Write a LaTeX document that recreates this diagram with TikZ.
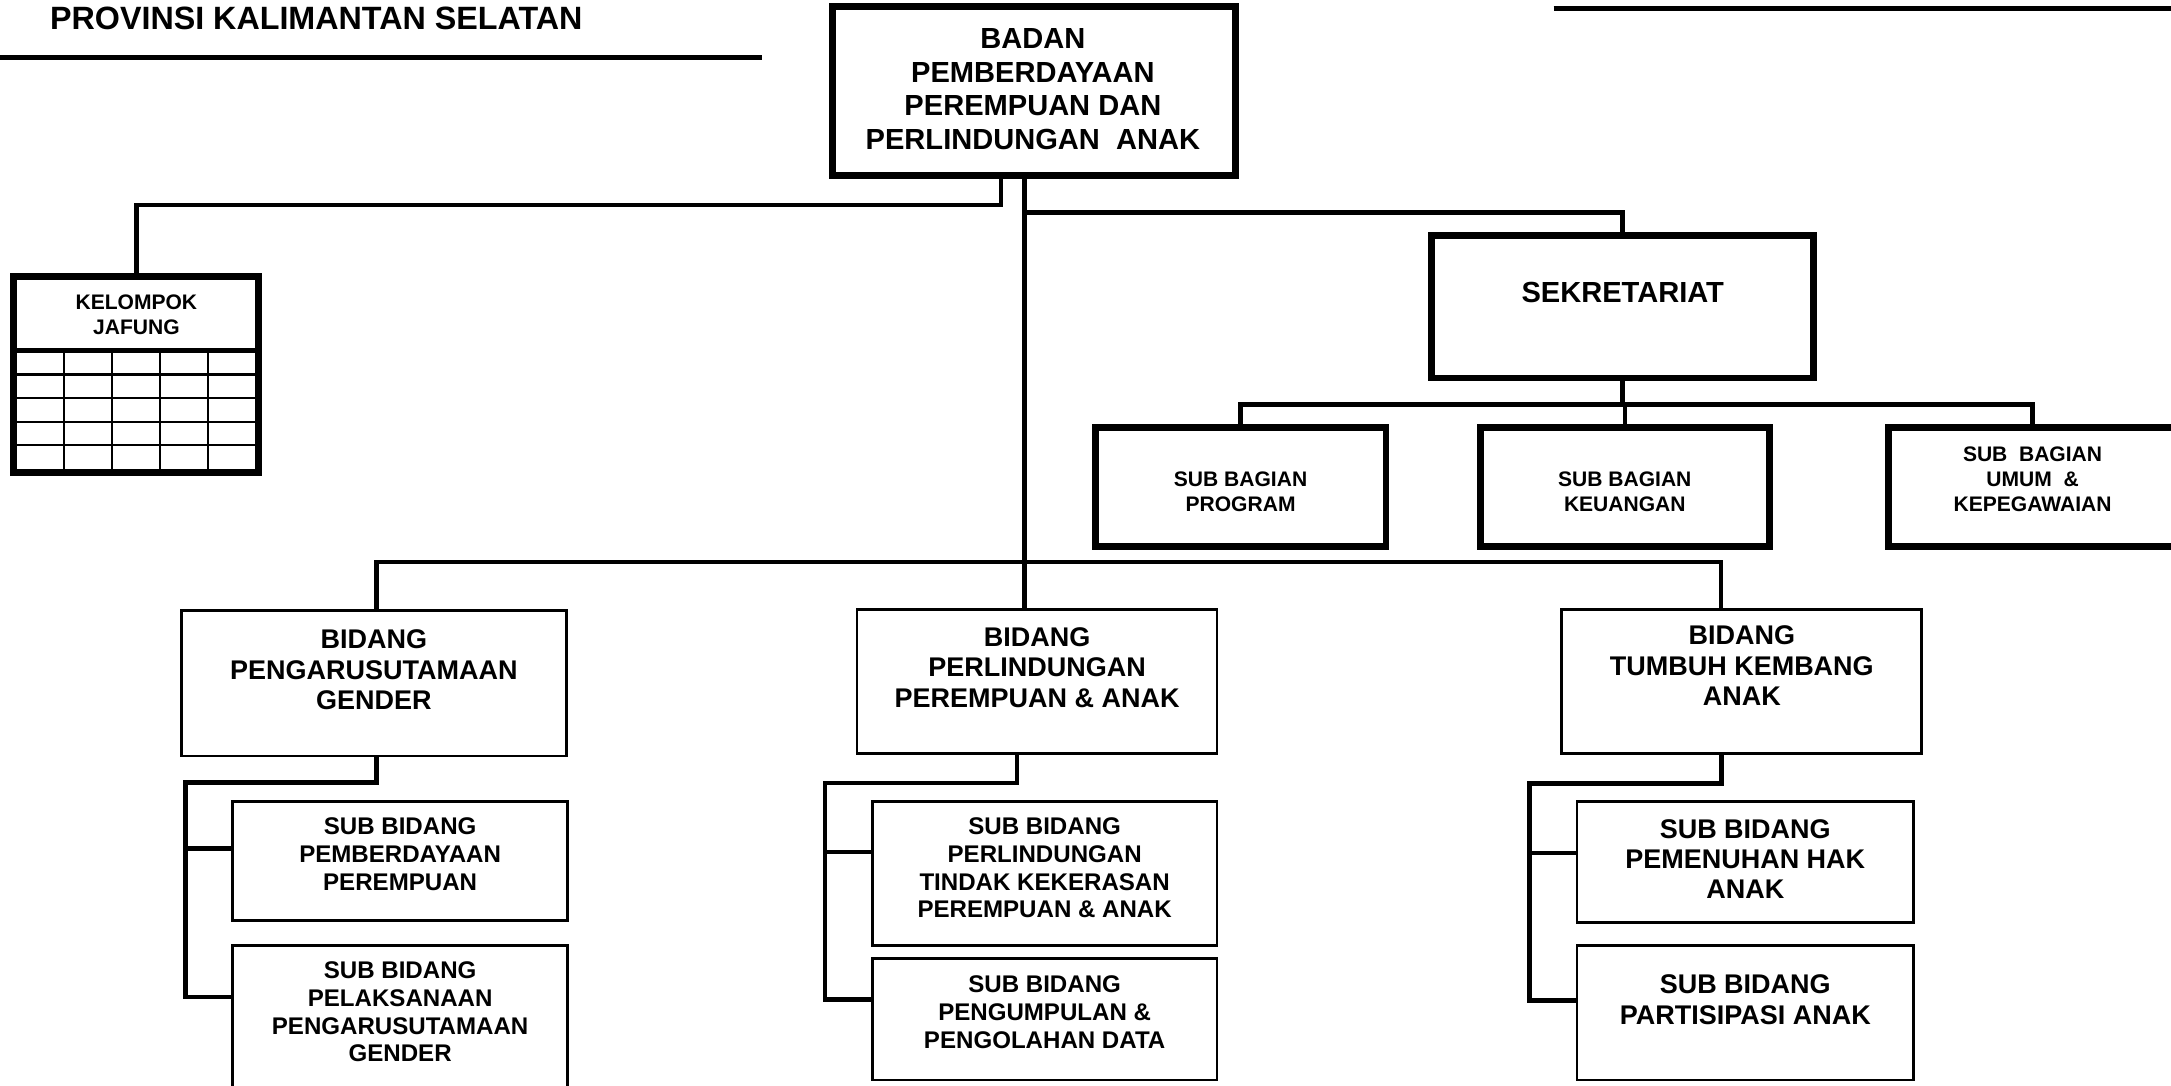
\documentclass[tikz,border=0pt]{standalone}
\usepackage{fontspec}
\setmainfont{Liberation Sans}
\begin{document}
\begin{tikzpicture}[x=1pt,y=-1pt,
  thickbox/.style={draw,line width=5pt,inner sep=0pt,outer sep=0pt},
  thinbox/.style={draw,line width=2pt,inner sep=0pt,outer sep=0pt},
  conn/.style={line width=3.3pt},
  rule/.style={line width=3.5pt},
  gridline/.style={line width=1.5pt},
  txt/.style={inner sep=0pt,align=center},
  tA/.style={txt,font=\fontsize{21}{24.3}\selectfont\bfseries},
  tB/.style={txt,font=\fontsize{19.5}{22}\selectfont\bfseries},
  tC/.style={txt,font=\fontsize{17.4}{20}\selectfont\bfseries},
  tD/.style={txt,font=\fontsize{15.2}{18}\selectfont\bfseries}]
\useasboundingbox (0,0) rectangle (1568,784);

% header
\node[anchor=west,inner sep=0pt,font=\fontsize{23.3}{27}\selectfont\bfseries] (title) at (36,13.5) {PROVINSI KALIMANTAN SELATAN};
\draw[rule] (0,41.5) -- (550,41.5);
\draw[rule] (1122,6) -- (1580,6);

% boxes
\node[thickbox,minimum width=291pt,minimum height=122pt] (main) at (746.5,66) {};
\node[tA] (tmain) at (746,64.5) {BADAN\\PEMBERDAYAAN\\PEREMPUAN DAN\\PERLINDUNGAN\ \ ANAK};

\node[thickbox,minimum width=177pt,minimum height=141pt] (kel) at (98.5,270.5) {};
\node[tD] (tkel) at (98.5,227.5) {KELOMPOK\\JAFUNG};
\draw[line width=3.5pt] (kel.west |- 0,253) -- (kel.east |- 0,253);
\foreach \yy in {270.5,287.5,305,321.5} \draw[gridline] (12,\yy) -- (185,\yy);
\foreach \xx in {46.5,81,115.7,150.4} \draw[gridline] (\xx,254) -- (\xx,339);

\node[thickbox,minimum width=276pt,minimum height=103pt] (sek) at (1172,221.5) {};
\node[tA] (tsek) at (1172,211) {SEKRETARIAT};

\node[thickbox,minimum width=210pt,minimum height=86pt] (prog) at (896,352) {};
\node[tD] (tprog) at (896,355) {SUB BAGIAN\\PROGRAM};
\node[thickbox,minimum width=209pt,minimum height=86pt] (keu) at (1173.5,352) {};
\node[tD] (tkeu) at (1173.5,355) {SUB BAGIAN\\KEUANGAN};
\node[thickbox,minimum width=211pt,minimum height=86pt] (umum) at (1469.5,352) {};
\node[tD] (tumum) at (1468,346) {SUB\ \ BAGIAN\\UMUM\ \ \&\\KEPEGAWAIAN};

\node[thinbox,minimum width=278pt,minimum height=105pt] (b1) at (270,493.5) {};
\node[tB] (tb1) at (270,484) {BIDANG\\PENGARUSUTAMAAN\\GENDER};
\node[thinbox,minimum width=260pt,minimum height=104pt] (b2) at (749,492) {};
\node[tB] (tb2) at (749,482) {BIDANG\\PERLINDUNGAN\\PEREMPUAN \& ANAK};
\node[thinbox,minimum width=260pt,minimum height=104pt] (b3) at (1258,492) {};
\node[tB] (tb3) at (1258,481) {BIDANG\\TUMBUH KEMBANG\\ANAK};

\node[thinbox,minimum width=242pt,minimum height=86pt] (s11) at (289,622) {};
\node[tC] (ts11) at (289,617) {SUB BIDANG\\PEMBERDAYAAN\\PEREMPUAN};
\node[thinbox,minimum width=242pt,minimum height=112pt] (s12) at (289,739) {};
\node[tC] (ts12) at (289,731) {SUB BIDANG\\PELAKSANAAN\\PENGARUSUTAMAAN\\GENDER};

\node[thinbox,minimum width=249pt,minimum height=104pt] (s21) at (754.5,631) {};
\node[tC] (ts21) at (754.5,627) {SUB BIDANG\\PERLINDUNGAN\\TINDAK KEKERASAN\\PEREMPUAN \& ANAK};
\node[thinbox,minimum width=249pt,minimum height=88pt] (s22) at (754.5,736) {};
\node[tC] (ts22) at (754.5,731) {SUB BIDANG\\PENGUMPULAN \&\\PENGOLAHAN DATA};

\node[thinbox,minimum width=243pt,minimum height=87pt] (s31) at (1260.5,622.5) {};
\node[tB,font=\fontsize{19.5}{21.5}\selectfont\bfseries] (ts31) at (1260.5,620.5) {SUB BIDANG\\PEMENUHAN HAK\\ANAK};
\node[thinbox,minimum width=243pt,minimum height=97pt] (s32) at (1260.5,731.5) {};
\node[tB] (ts32) at (1260.5,722) {SUB BIDANG\\PARTISIPASI ANAK};

% connectors
\draw[conn] ([xshift=-23.5pt]main.south) -- ++(0,21) -| (kel.north);
\draw[conn] ([xshift=-6.5pt]main.south) -- ([xshift=-9pt]b2.north);
\draw[conn] ([xshift=-6.5pt]main.south) ++(0,26.5) -| (sek.north);

\draw[conn] (sek.south) -- ++(0,19) coordinate (sb);
\draw[conn] (prog.north) |- (sb) -| ([xshift=-1.5pt]umum.north);
\draw[conn] (keu.north) -- (keu.north |- sb);

\coordinate (bus) at (740,406);
\draw[conn] ([xshift=2pt]b1.north) |- (bus) -| ([xshift=-15pt]b3.north);

\draw[conn] ([xshift=2pt]b1.south) -- ++(0,19) -| ([xshift=-34pt,yshift=19pt]s12.west) -- ([yshift=19pt]s12.west);
\draw[conn] ([yshift=9pt]s11.west) -- ++(-34,0);

\draw[conn] ([xshift=-14.5pt]b2.south) -- ++(0,21.5) -| ([xshift=-34pt,yshift=14pt]s22.west) -- ([yshift=14pt]s22.west);
\draw[conn] ([yshift=15.5pt]s21.west) -- ++(-34,0);

\draw[conn] ([xshift=-14.5pt]b3.south) -- ++(0,22) -| ([xshift=-34.5pt,yshift=9pt]s32.west) -- ([yshift=9pt]s32.west);
\draw[conn] ([yshift=6.5pt]s31.west) -- ++(-34.5,0);
\end{tikzpicture}
\end{document}
